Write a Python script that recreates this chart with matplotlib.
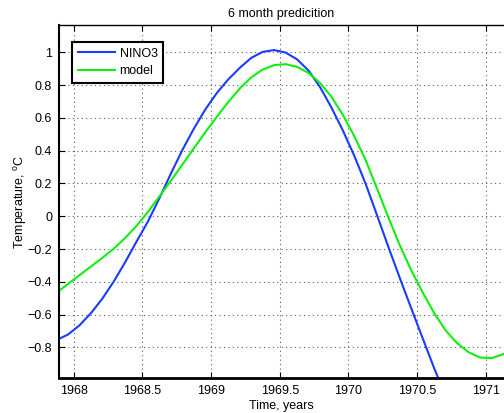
import matplotlib
matplotlib.use("Agg")
import matplotlib.pyplot as plt
import numpy as np
from matplotlib.ticker import FormatStrFormatter, FuncFormatter

# monthly time axis, Nov 1967 .. Mar 1971
time = np.arange(41) / 12.0 + 1967.875

nino3 = [-0.755, -0.722, -0.666, -0.592, -0.503, -0.398, -0.280, -0.153,
         -0.030, 0.112, 0.262, 0.405, 0.535, 0.652, 0.752, 0.835,
         0.905, 0.966, 1.003, 1.014, 0.999, 0.958, 0.890, 0.790,
         0.665, 0.525, 0.370, 0.198, 0.005, -0.190, -0.380, -0.565,
         -0.748, -0.930, -1.100, -1.250, -1.380, -1.480, -1.550, -1.590,
         -1.600]

model = [-0.467, -0.413, -0.360, -0.307, -0.254, -0.198, -0.132, -0.058,
         0.028, 0.122, 0.218, 0.316, 0.415, 0.513, 0.607, 0.697,
         0.779, 0.847, 0.895, 0.922, 0.928, 0.912, 0.875, 0.815,
         0.730, 0.620, 0.490, 0.343, 0.168, -0.010, -0.180, -0.332,
         -0.467, -0.593, -0.698, -0.775, -0.830, -0.862, -0.866, -0.842,
         -0.800]

xticks = [1968, 1968.5, 1969, 1969.5, 1970, 1970.5, 1971]
yticks = [-0.8, -0.6, -0.4, -0.2, 0, 0.2, 0.4, 0.6, 0.8, 1]

plt.rcParams['font.family'] = ['Liberation Sans', 'DejaVu Sans']
plt.rcParams['mathtext.default'] = 'regular'

fig = plt.figure(figsize=(5.04, 4.13), dpi=100)
W, H = 504.0, 413.0
ax = fig.add_axes([59 / W, (H - 378) / H, (504 - 59) / W, (378 - 25) / H])

ax.plot(time, nino3, color='#1a3cff', lw=1.5, label='NINO3')
ax.plot(time, model, color='#11ee11', lw=1.5, label='model')

ax.set_xlim(1967.893, 1971.132)
ax.set_ylim(-0.987, 1.167)
ax.set_xticks(xticks)
ax.set_yticks(yticks)
ax.xaxis.set_major_formatter(FormatStrFormatter('%g'))
ax.yaxis.set_major_formatter(FuncFormatter(lambda v, p: ('%g' % v).replace('-', '\u2212')))
ax.tick_params(direction='in', length=4, width=0.8, labelsize=9, top=True, right=False, pad=5)
ax.grid(True, linestyle=(0, (1, 3)), color='0.35', linewidth=0.8)

ax.spines['right'].set_visible(False)
ax.spines['top'].set_linewidth(1.0)
ax.spines['left'].set_linewidth(1.5)
ax.spines['bottom'].set_linewidth(2.0)

ax.set_title('6 month predicition', fontsize=9, pad=6)
ax.set_xlabel('Time, years', fontsize=9, labelpad=2)
ax.set_ylabel('Temperature, $^{o}$C', fontsize=9, labelpad=-1)

leg = ax.legend(loc='upper left', bbox_to_anchor=(13 / 445, 1 - 17 / 353), fontsize=9,
                fancybox=False, framealpha=1, edgecolor='black', handlelength=2.96,
                borderaxespad=0, borderpad=0.45, labelspacing=0.44, handletextpad=0.4)
leg.get_frame().set_linewidth(1.5)

fig.savefig('out.png', dpi=100)
